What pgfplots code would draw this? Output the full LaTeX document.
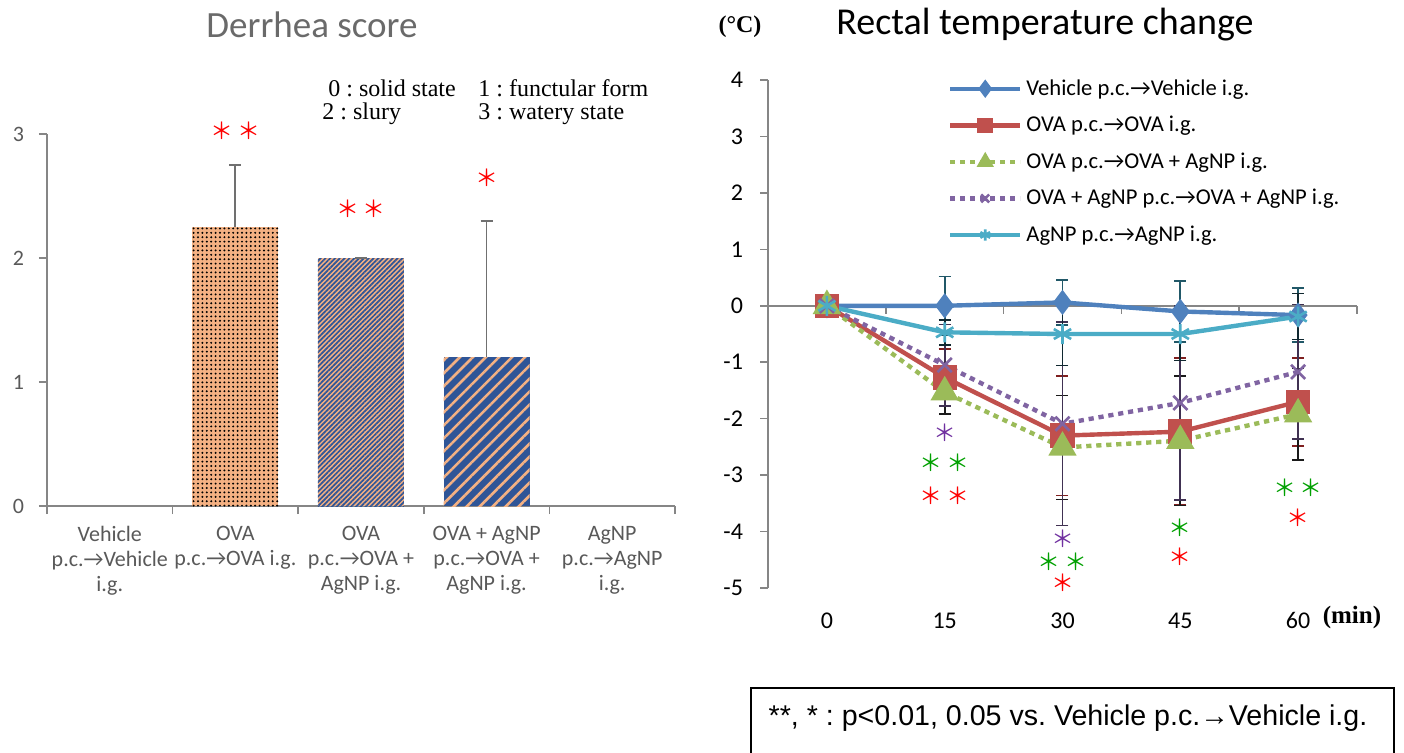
\documentclass[border=0pt]{standalone}
\usepackage{pgfplots}
\pgfplotsset{compat=1.18}
\usepackage{pgfplotstable}
\usepackage{fontspec}
\setmainfont{Carlito}
\newfontfamily\cjk{Noto Sans CJK JP}
\newfontfamily\serif{Liberation Serif}
\newfontfamily\arial{Liberation Sans}
\usetikzlibrary{patterns.meta}
\definecolor{barorange}{HTML}{F4B183}
\definecolor{barblue}{HTML}{2F5597}
\definecolor{cblue}{HTML}{4F81BD}
\definecolor{cred}{HTML}{C0504D}
\definecolor{cgreen}{HTML}{9BBB59}
\definecolor{cpurple}{HTML}{8064A2}
\definecolor{ccyan}{HTML}{4BACC6}
\definecolor{eblue}{HTML}{215868}
\definecolor{ered}{HTML}{7F1F1F}
\definecolor{egreen}{HTML}{1A1A1A}
\definecolor{epurple}{HTML}{403152}
\definecolor{ecyan}{HTML}{102830}
\definecolor{txtgray}{HTML}{595959}
\definecolor{titlegray}{HTML}{6A6A6A}
\definecolor{axgray}{HTML}{868686}
\definecolor{errgray}{HTML}{707070}
\definecolor{sgreen}{HTML}{00A000}
\definecolor{spurple}{HTML}{7030A0}

\pgfplotstableread{
x y e
0 0 0
15 0 0.52
30 0.06 0.40
45 -0.10 0.54
60 -0.165 0.48
}\vehicle
\pgfplotstableread{
x y e
0 0 0
15 -1.27 0.50
30 -2.30 1.06
45 -2.23 1.30
60 -1.70 0.78
}\ova
\pgfplotstableread{
x y e
0 0 0
15 -1.53 0.39
30 -2.51 0.92
45 -2.39 1.15
60 -1.92 0.81
}\ovaig
\pgfplotstableread{
x y e
0 0 0
15 -1.05 0.72
30 -2.09 1.80
45 -1.72 1.72
60 -1.17 1.19
}\ovapc
\pgfplotstableread{
x y e
0 0 0
15 -0.47 0.22
30 -0.50 0.56
45 -0.50 0.47
60 -0.19 0.41
}\agnp

\newcommand{\st}{\cjk\fontsize{11.5}{12}\selectfont}
\begin{document}
\frenchspacing
\begin{tikzpicture}
\path[use as bounding box] (0pt,0pt) rectangle (702pt,-376pt);

% ---------- left chart ----------
\begin{axis}[
  at={(23.5pt,-253pt)}, anchor=south west,
  scale only axis, width=314pt, height=186pt,
  xmin=-0.5, xmax=4.5, ymin=0, ymax=3,
  axis x line=bottom, axis y line=left,
  axis line style={-, axgray, line width=0.8pt},
  xtick={0,1,2,3,4}, minor xtick={-0.5,0.5,1.5,2.5,3.5,4.5},
  xticklabels={{Vehicle\\p.c.→Vehicle\\i.g.},{OVA\\p.c.→OVA i.g.},{OVA\\p.c.→OVA +\\AgNP i.g.},{OVA + AgNP\\p.c.→OVA +\\AgNP i.g.},{AgNP\\p.c.→AgNP\\i.g.}},
  ytick={0,1,2,3},
  tick align=outside,
  major tick length=4pt, minor tick length=4pt,
  major x tick style={draw=none},
  minor x tick style={axgray, line width=0.8pt},
  y tick style={axgray, line width=0.8pt},
  tick label style={font=\fontsize{11}{12.6}\selectfont, text=txtgray},
  xticklabel style={align=center, yshift=-2.5pt},
  yticklabel style={xshift=-4pt},
  /pgf/number format/assume math mode=true,
  clip=false,
]
\addplot[ybar, bar width=43pt, draw=none, fill=none] coordinates {(0,0) (4,0)};
\addplot[ybar, bar width=43pt, draw=none, fill=barorange,
  postaction={pattern={Dots[distance=2.2pt, radius=0.55pt]}, pattern color=black},
  error bars/.cd, y dir=plus, y explicit,
  error bar style={errgray, line width=0.9pt},
  error mark options={rotate=90, errgray, mark size=3pt, line width=0.9pt}]
  coordinates {(1,2.25) +- (0,0.50)};
\addplot[ybar, bar width=43pt, draw=none, fill=barorange,
  postaction={pattern={Lines[angle=45, distance=1.7pt, line width=0.85pt]}, pattern color=barblue},
  error bars/.cd, y dir=plus, y explicit,
  error bar style={errgray, line width=0.9pt},
  error mark options={rotate=90, errgray, mark size=3pt, line width=0.9pt}]
  coordinates {(2,2.0) +- (0,0.0)};
\addplot[ybar, bar width=43pt, draw=none, fill=barblue,
  postaction={pattern={Lines[angle=45, distance=4.6pt, line width=1.3pt]}, pattern color=barorange},
  error bars/.cd, y dir=plus, y explicit,
  error bar style={errgray, line width=0.9pt},
  error mark options={rotate=90, errgray, mark size=3pt, line width=0.9pt}]
  coordinates {(3,1.2) +- (0,1.1)};
\node[text=red, font=\st] at (axis cs:1,3.03) {＊\,＊};
\node[text=red, font=\st] at (axis cs:2,2.40) {＊\,＊};
\node[text=red, font=\st] at (axis cs:3,2.65) {＊};
\end{axis}

% ---------- right chart ----------
\begin{axis}[
  at={(384pt,-294pt)}, anchor=south west,
  scale only axis, width=294.5pt, height=254pt,
  xmin=-7.5, xmax=67.5, ymin=-5, ymax=4,
  axis x line=middle, axis y line=left,
  axis line style={-, axgray, line width=0.8pt},
  xtick={0,15,30,45,60}, minor xtick={7.5,22.5,37.5,52.5,67.5},
  ytick={-5,-4,-3,-2,-1,0,1,2,3,4},
  hide obscured x ticks=false, hide obscured y ticks=false,
  tick align=outside,
  major tick length=4pt, minor tick length=4pt,
  major x tick style={draw=none},
  minor x tick style={axgray, line width=0.8pt},
  y tick style={axgray, line width=0.8pt},
  tick label style={font=\fontsize{12}{14}\selectfont, text=black},
  xticklabel style={anchor=center, yshift=-153.5pt},
  yticklabel style={xshift=-5pt},
  /pgf/number format/assume math mode=true,
  clip=false,
  legend style={at={(0.305,1.01)}, anchor=north west, draw=none, fill=none,
    font=\fontsize{11.3}{13}\selectfont, row sep=5.0pt, inner sep=0pt},
  legend cell align=left,
  legend image code/.code={\draw[mark repeat=2,mark phase=2,#1] plot coordinates {(0pt,0pt) (17.5pt,0pt) (35pt,0pt)};},
  legend image post style={mark size=2.8pt},
]
\addplot[cblue, line width=2.2pt, mark=diamond*, mark size=4.5pt, mark options={solid},
  error bars/.cd, y dir=both, y explicit,
  error bar style={eblue, line width=0.8pt, solid},
  error mark options={rotate=90, eblue, mark size=3pt, line width=0.8pt, solid}]
  table[x=x, y=y, y error=e] {\vehicle};
\addlegendentry{Vehicle p.c.→Vehicle i.g.}
\addplot[cred, line width=2.2pt, mark=square*, mark size=5pt, mark options={solid},
  error bars/.cd, y dir=both, y explicit,
  error bar style={ered, line width=0.8pt, solid},
  error mark options={rotate=90, ered, mark size=3pt, line width=0.8pt, solid}]
  table[x=x, y=y, y error=e] {\ova};
\addlegendentry{OVA p.c.→OVA i.g.}
\addplot[cgreen, line width=2.2pt, dash pattern=on 2.6pt off 2.4pt, mark=triangle*, mark size=6pt, mark options={solid},
  error bars/.cd, y dir=both, y explicit,
  error bar style={egreen, line width=0.8pt, solid},
  error mark options={rotate=90, egreen, mark size=3pt, line width=0.8pt, solid}]
  table[x=x, y=y, y error=e] {\ovaig};
\addlegendentry{OVA p.c.→OVA + AgNP i.g.}
\addplot[cpurple, line width=2.2pt, dash pattern=on 2.6pt off 2.4pt, mark=x, mark size=5pt, mark options={solid, line width=1.3pt},
  error bars/.cd, y dir=both, y explicit,
  error bar style={epurple, line width=0.8pt, solid},
  error mark options={rotate=90, epurple, mark size=3pt, line width=0.8pt, solid}]
  table[x=x, y=y, y error=e] {\ovapc};
\addlegendentry{OVA + AgNP p.c.→OVA + AgNP i.g.}
\addplot[ccyan, line width=2.2pt, mark=asterisk, mark size=5pt, mark options={solid, line width=1.3pt},
  error bars/.cd, y dir=both, y explicit,
  error bar style={ecyan, line width=0.8pt, solid},
  error mark options={rotate=90, ecyan, mark size=3pt, line width=0.8pt, solid}]
  table[x=x, y=y, y error=e] {\agnp};
\addlegendentry{AgNP p.c.→AgNP i.g.}

\begin{scope}[font=\st, inner sep=0pt]
\node[text=spurple] at (axis cs:15,-2.25) {＊};
\node[text=sgreen] at (axis cs:15,-2.78) {＊\,＊};
\node[text=red] at (axis cs:15,-3.37) {＊\,＊};
\node[text=spurple] at (axis cs:30,-4.13) {＊};
\node[text=sgreen] at (axis cs:30,-4.53) {＊\,＊};
\node[text=red] at (axis cs:30,-4.91) {＊};
\node[text=sgreen] at (axis cs:45,-3.93) {＊};
\node[text=red] at (axis cs:45,-4.45) {＊};
\node[text=sgreen] at (axis cs:60,-3.22) {＊\,＊};
\node[text=red] at (axis cs:60,-3.76) {＊};
\end{scope}
\end{axis}

% ---------- titles and notes ----------
\node[text=titlegray, font=\fontsize{18.5}{22}\selectfont] at (156pt,-12.5pt) {Derrhea score};
\node[text=black, font=\fontsize{19}{22}\selectfont] at (522.5pt,-12.5pt) {Rectal temperature change};
\node[font=\serif\bfseries\fontsize{12}{14}\selectfont] at (370pt,-13.5pt) {(°C)};
\node[font=\serif\bfseries\fontsize{12.5}{14}\selectfont] at (676pt,-308.5pt) {(min)};
\begin{scope}[font=\serif\fontsize{12}{14}\selectfont, inner sep=0pt]
\node[anchor=west] at (164pt,-44pt) {0 : solid state};
\node[anchor=west] at (239pt,-44pt) {1 : functular form};
\node[anchor=west] at (161pt,-57pt) {2 : slury};
\node[anchor=west] at (239pt,-57pt) {3 : watery state};
\end{scope}
\draw[black, line width=0.75pt] (375.5pt,-382pt) -- (375.5pt,-344pt) -- (697pt,-344pt) -- (697pt,-382pt);
\node[font=\arial\fontsize{14.3}{16}\selectfont] at (534pt,-359pt) {**, * : p<0.01, 0.05 vs. Vehicle p.c.→Vehicle i.g.};
\end{tikzpicture}
\end{document}
